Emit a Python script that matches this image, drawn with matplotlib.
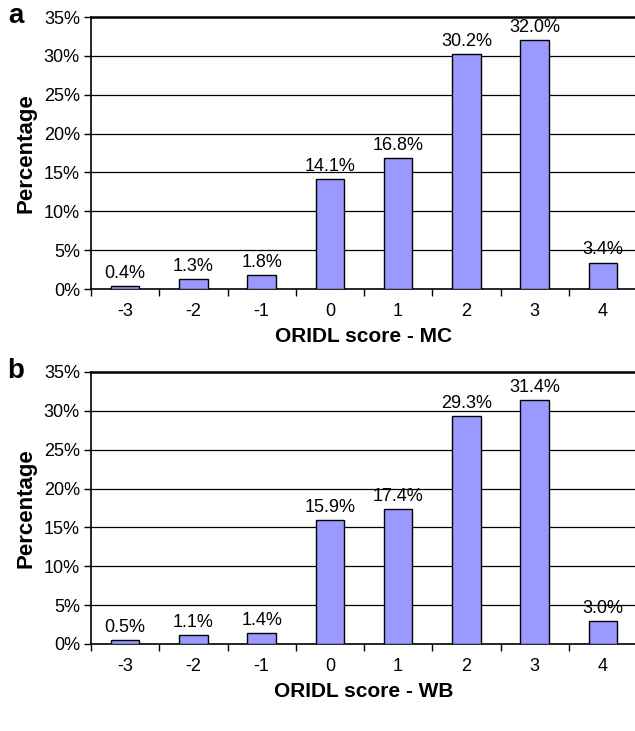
import matplotlib
matplotlib.use("Agg")
import matplotlib.pyplot as plt
from matplotlib.ticker import FuncFormatter

plt.rcParams["font.family"] = ["Liberation Sans", "DejaVu Sans"]

scores = ["-3", "-2", "-1", "0", "1", "2", "3", "4"]
mc_pct = [0.4, 1.3, 1.8, 14.1, 16.8, 30.2, 32.0, 3.4]
wb_pct = [0.5, 1.1, 1.4, 15.9, 17.4, 29.3, 31.4, 3.0]
panels = [("a", "ORIDL score - MC", mc_pct), ("b", "ORIDL score - WB", wb_pct)]

W, H = 635, 731
fig = plt.figure(figsize=(W / 100, H / 100), dpi=100)

# axes boxes in pixels: left, top, right, bottom
boxes = [(91, 17, 637, 289), (91, 372, 637, 644)]

for (letter, xlabel, values), (l, t, r, b) in zip(panels, boxes):
    ax = fig.add_axes([l / W, 1 - b / H, (r - l) / W, (b - t) / H])
    x = range(len(scores))
    ax.bar(x, values, width=0.42, color="#9999FF", edgecolor="black",
           linewidth=1.0, zorder=3)
    for xi, v in zip(x, values):
        ax.annotate(f"{v:.1f}%", (xi, v), xytext=(0, 3), textcoords="offset points",
                    ha="center", va="bottom", fontsize=13, zorder=4)

    ax.set_xlim(-0.5, len(scores) - 0.5)
    ax.set_ylim(0, 35)
    ax.set_yticks(range(0, 36, 5))
    ax.yaxis.set_major_formatter(FuncFormatter(lambda v, p: f"{v:.0f}%"))
    for yv in range(5, 35, 5):
        ax.axhline(yv, color="black", linewidth=0.9, zorder=1)
    ax.axhline(35, color="black", linewidth=1.8, zorder=1, clip_on=False)

    ax.set_xticks([i + 0.5 for i in range(-1, len(scores))])
    ax.set_xticklabels([])
    ax.set_xticks(list(x), minor=True)
    ax.set_xticklabels(scores, minor=True)
    ax.tick_params(axis="x", which="major", length=5, width=1, direction="out")
    ax.tick_params(axis="x", which="minor", length=0, pad=10, labelsize=13)
    ax.tick_params(axis="y", length=5, width=1, labelsize=13, pad=3)

    for side in ["top", "right"]:
        ax.spines[side].set_visible(False)
    ax.spines["left"].set_linewidth(1.2)
    ax.spines["bottom"].set_linewidth(1.2)

    ax.set_xlabel(xlabel, fontsize=15, fontweight="bold", labelpad=5)
    ax.set_ylabel("Percentage", fontsize=16, fontweight="bold", labelpad=5)
    fig.text(16 / W, 1 - (t - 1) / H, letter, fontsize=20, fontweight="bold",
             ha="center", va="center")

fig.savefig("out.png", dpi=100)
